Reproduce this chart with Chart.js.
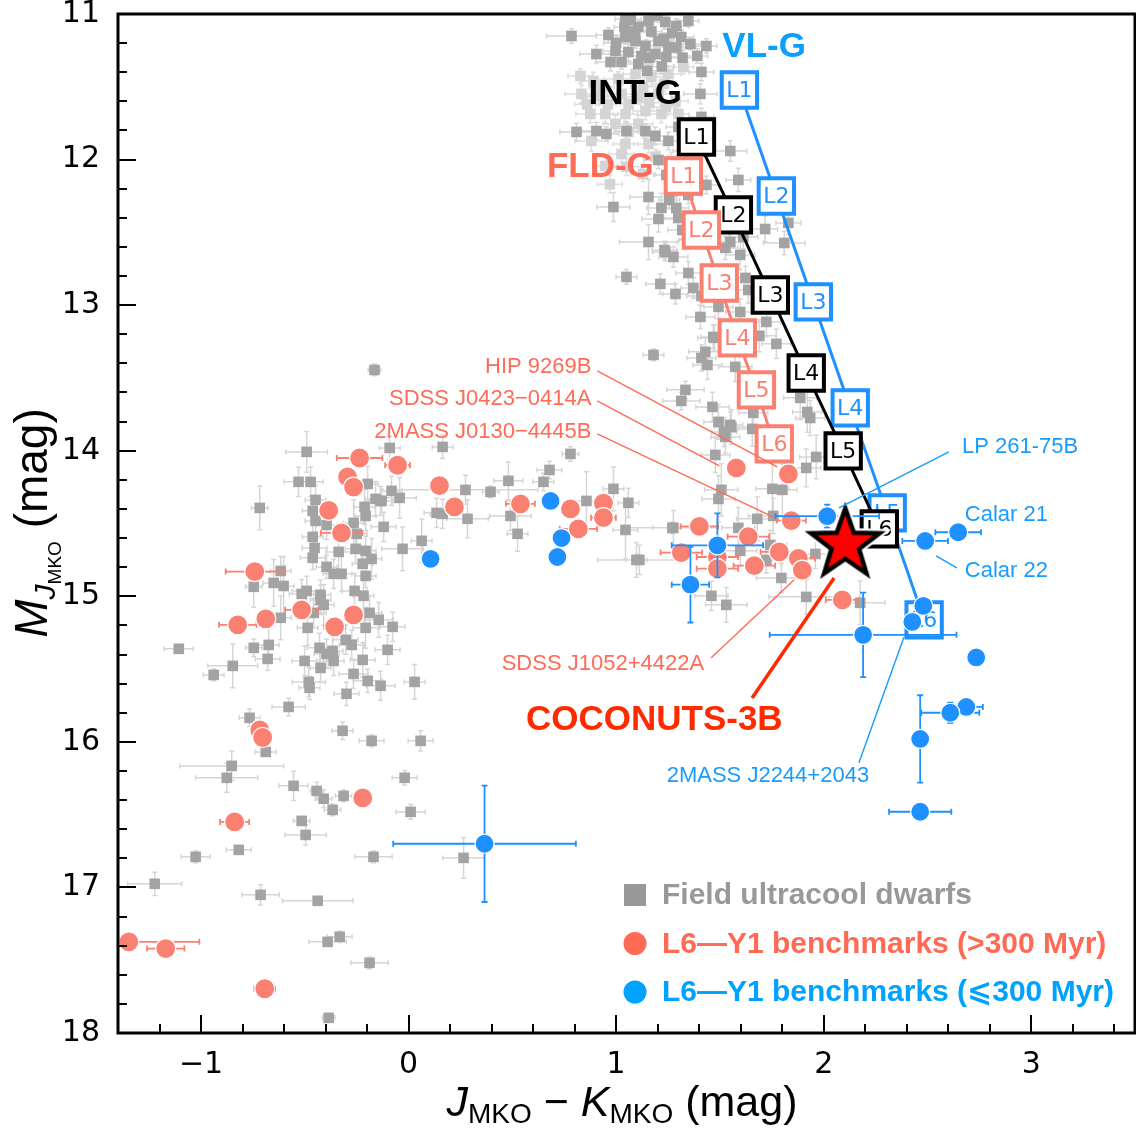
<!DOCTYPE html>
<html>
<head>
<meta charset="utf-8">
<script src="https://cdn.jsdelivr.net/npm/chart.js@4"></script>
<style>
html, body { margin: 0; padding: 0; background: #fff; overflow: hidden; }
#wrap { width: 1136px; height: 1129px; }
</style>
</head>
<body>
<div id="wrap"><canvas id="cmd"></canvas></div>
<script>
// tick values
const xTicks = [-1, 0, 1, 2, 3]
const yTicks = [11, 12, 13, 14, 15, 16, 17, 18]

// spectral sequences (J-K, M_J)
const spTypes = ['L1', 'L2', 'L3', 'L4', 'L5', 'L6']
const fldX = [1.324, 1.411, 1.497, 1.584, 1.676, 1.762]
const fldY = [12.113, 12.484, 12.848, 13.225, 13.582, 13.953]
const intX = [1.387, 1.565, 1.743, 1.916, 2.094, 2.268]
const intY = [11.845, 12.380, 12.930, 13.466, 14.001, 14.537]
const vlX = [1.594, 1.772, 1.950, 2.128, 2.306, 2.484]
const vlY = [11.522, 12.250, 12.978, 13.706, 14.427, 15.162]

// COCONUTS-3B
const cocoX = [2.104]
const cocoY = [14.63]

// benchmarks [x, y, xerr, yerr]
const oldBench = [
  [-0.236, 14.05, 0.11, 0.03], [-0.053, 14.10, 0.06, 0.02], [-0.294, 14.18, 0.03, 0.02],
  [-0.265, 14.25, 0.02, 0.03], [-0.385, 14.41, 0.02, 0.02], [-0.323, 14.565, 0.10, 0.03],
  [0.149, 14.24, 0.03, 0.02], [0.221, 14.386, 0.03, 0.02], [-0.741, 14.83, 0.14, 0.04],
  [-0.823, 15.196, 0.09, 0.02], [-0.688, 15.155, 0.04, 0.02], [-0.515, 15.093, 0.08, 0.02],
  [-0.265, 15.128, 0.03, 0.02], [-0.356, 15.21, 0.05, 0.02], [-0.717, 15.918, 0.03, 0.02],
  [-0.703, 15.97, 0.04, 0.02], [-0.221, 16.385, 0.03, 0.02], [-0.838, 16.55, 0.07, 0.02],
  [-1.348, 17.374, 0.34, 0.02], [-1.170, 17.42, 0.09, 0.02], [-0.693, 17.696, 0.05, 0.02],
  [0.539, 14.365, 0.07, 0.03], [0.780, 14.40, 0.03, 0.02], [0.818, 14.537, 0.09, 0.03],
  [0.939, 14.36, 0.04, 0.02], [0.939, 14.46, 0.06, 0.02], [1.579, 14.118, 0.04, 0.02],
  [1.830, 14.16, 0.03, 0.02], [1.844, 14.48, 0.07, 0.03], [1.401, 14.52, 0.09, 0.03],
  [1.314, 14.70, 0.10, 0.03], [1.488, 14.73, 0.10, 0.03], [1.488, 14.81, 0.10, 0.03],
  [1.637, 14.59, 0.10, 0.03], [1.666, 14.79, 0.10, 0.02], [1.786, 14.695, 0.09, 0.03],
  [1.878, 14.74, 0.08, 0.03], [1.897, 14.82, 0.04, 0.02], [2.090, 15.025, 0.08, 0.02]
]
const youngBench = [
  [0.106, 14.743, 0, 0], [0.684, 14.345, 0, 0], [0.737, 14.60, 0, 0], [0.717, 14.73, 0, 0],
  [0.366, 16.70, 0.44, 0.40], [1.488, 14.65, 0.22, 0.22], [1.358, 14.92, 0.09, 0.26],
  [2.017, 14.45, 0.25, 0.08], [2.489, 14.62, 0.11, 0.03], [2.648, 14.56, 0.11, 0.03],
  [2.190, 15.265, 0.45, 0.29], [2.480, 15.066, 0.02, 0.03], [2.427, 15.176, 0, 0],
  [2.735, 15.42, 0.02, 0.05], [2.687, 15.76, 0.08, 0.04], [2.610, 15.80, 0.14, 0.07],
  [2.465, 15.98, 0.01, 0.30], [2.465, 16.48, 0.15, 0.03]
]

// field ultracool dwarfs [x, y, xerr, yerr]
const fieldLight = [
  [0.828, 11.426, 0.06, 0.05], [0.891, 11.460, 0.06, 0.06], [1.011, 11.446, 0.07, 0.05], [1.093, 11.412, 0.06, 0.05],
  [1.170, 11.433, 0.06, 0.06], [1.252, 11.412, 0.06, 0.05], [1.324, 11.364, 0.05, 0.05], [0.833, 11.549, 0.08, 0.06],
  [0.915, 11.563, 0.06, 0.06], [1.026, 11.549, 0.07, 0.06], [1.107, 11.570, 0.06, 0.05], [1.204, 11.549, 0.06, 0.06],
  [1.286, 11.598, 0.06, 0.05], [0.876, 11.687, 0.07, 0.06], [0.948, 11.687, 0.06, 0.06], [1.045, 11.687, 0.06, 0.05],
  [1.141, 11.666, 0.06, 0.06], [1.218, 11.687, 0.07, 0.06], [1.300, 11.687, 0.05, 0.05], [0.997, 11.755, 0.06, 0.06],
  [1.107, 11.755, 0.07, 0.06], [1.045, 11.893, 0.06, 0.06], [0.881, 11.872, 0.08, 0.07], [1.156, 11.893, 0.07, 0.06],
  [1.266, 12.010, 0.07, 0.06], [0.948, 12.044, 0.06, 0.06], [1.026, 11.962, 0.06, 0.06], [1.130, 12.100, 0.06, 0.05],
  [1.050, 12.050, 0.07, 0.06], [0.970, 12.170, 0.06, 0.06], [1.190, 11.980, 0.06, 0.05], [0.860, 11.620, 0.06, 0.05],
  [0.960, 11.620, 0.06, 0.05], [1.060, 11.620, 0.06, 0.05], [1.160, 11.610, 0.06, 0.05], [1.240, 11.640, 0.06, 0.05],
  [0.930, 11.500, 0.06, 0.05], [1.130, 11.500, 0.06, 0.05], [1.230, 11.480, 0.06, 0.05], [1.060, 11.810, 0.06, 0.05]
]
const fieldDark = [
  [0.785, 11.151, 0.12, 0.05], [0.963, 11.144, 0.06, 0.05], [1.045, 11.034, 0.05, 0.04], [1.107, 11.089, 0.06, 0.05],
  [1.156, 11.048, 0.05, 0.04], [1.237, 11.055, 0.07, 0.05], [1.348, 11.048, 0.05, 0.04], [1.290, 11.082, 0.06, 0.05],
  [1.045, 11.158, 0.07, 0.05], [1.093, 11.185, 0.06, 0.05], [1.141, 11.220, 0.05, 0.04], [1.204, 11.185, 0.06, 0.05],
  [1.252, 11.227, 0.07, 0.06], [1.314, 11.158, 0.06, 0.05], [1.358, 11.206, 0.05, 0.04], [1.059, 11.261, 0.08, 0.06],
  [1.122, 11.288, 0.06, 0.05], [1.189, 11.275, 0.07, 0.05], [1.242, 11.295, 0.06, 0.06], [0.905, 11.275, 0.08, 0.06],
  [0.997, 11.254, 0.06, 0.05], [0.973, 11.330, 0.07, 0.06], [1.026, 11.330, 0.06, 0.05], [1.107, 11.343, 0.07, 0.05],
  [1.391, 11.288, 0.05, 0.05], [1.411, 11.398, 0.06, 0.06], [1.435, 11.220, 0.05, 0.05], [1.406, 11.549, 0.08, 0.07],
  [1.411, 11.707, 0.06, 0.06], [1.550, 11.941, 0.08, 0.07], [0.809, 11.810, 0.08, 0.06], [0.905, 11.804, 0.07, 0.06],
  [0.953, 11.824, 0.06, 0.05], [1.050, 11.804, 0.06, 0.06], [1.141, 11.804, 0.07, 0.05], [1.189, 11.838, 0.06, 0.06],
  [1.252, 11.872, 0.07, 0.06], [1.300, 11.776, 0.06, 0.05], [1.334, 11.941, 0.06, 0.05], [1.170, 11.120, 0.05, 0.04],
  [1.270, 11.130, 0.05, 0.05], [1.000, 11.200, 0.06, 0.05], [1.320, 11.300, 0.06, 0.05], [1.150, 11.390, 0.06, 0.05],
  [1.220, 11.360, 0.06, 0.05], [1.070, 11.040, 0.05, 0.04], [1.200, 11.010, 0.05, 0.03], [1.090, 11.120, 0.05, 0.04],
  [1.230, 11.170, 0.05, 0.04], [1.160, 11.300, 0.05, 0.04], [1.290, 11.230, 0.05, 0.04], [1.040, 11.090, 0.05, 0.04],
  [1.204, 12.003, 0.07, 0.06], [1.242, 12.106, 0.06, 0.05], [1.348, 12.243, 0.06, 0.06], [1.319, 12.484, 0.07, 0.06],
  [1.363, 12.552, 0.06, 0.05], [1.589, 12.140, 0.06, 0.08], [1.435, 12.174, 0.06, 0.06], [0.987, 12.326, 0.08, 0.10],
  [1.156, 12.257, 0.09, 0.12], [1.218, 12.332, 0.07, 0.10], [1.204, 12.408, 0.08, 0.09], [1.290, 12.332, 0.06, 0.08],
  [1.300, 12.401, 0.07, 0.08], [1.156, 12.566, 0.14, 0.12], [1.233, 12.621, 0.06, 0.06], [1.598, 12.655, 0.07, 0.10],
  [1.526, 12.607, 0.06, 0.08], [1.550, 12.566, 0.06, 0.07], [1.613, 12.532, 0.07, 0.08], [1.623, 12.813, 0.06, 0.08],
  [1.637, 12.896, 0.07, 0.09], [1.468, 13.218, 0.06, 0.08], [1.647, 13.218, 0.06, 0.07], [1.718, 12.477, 0.06, 0.09],
  [1.810, 12.573, 0.10, 0.08], [1.830, 12.435, 0.06, 0.08], [1.256, 12.278, 0.05, 0.06],
  [1.050, 12.806, 0.05, 0.05], [1.213, 12.854, 0.07, 0.07], [1.276, 12.669, 0.07, 0.07], [1.237, 12.635, 0.06, 0.06],
  [1.348, 12.779, 0.06, 0.08], [1.286, 12.923, 0.06, 0.07], [1.372, 12.882, 0.06, 0.07], [1.411, 12.937, 0.07, 0.07],
  [1.406, 13.081, 0.07, 0.08], [1.493, 13.012, 0.07, 0.08], [1.598, 13.047, 0.07, 0.09], [1.724, 13.115, 0.07, 0.10],
  [1.772, 13.266, 0.07, 0.10], [1.473, 13.225, 0.08, 0.09], [1.690, 13.211, 0.08, 0.11], [1.180, 13.342, 0.05, 0.04],
  [1.430, 13.321, 0.08, 0.10], [1.411, 13.363, 0.07, 0.09], [1.440, 13.411, 0.07, 0.10], [1.574, 13.424, 0.08, 0.10],
  [1.334, 13.582, 0.09, 0.06], [1.314, 13.658, 0.09, 0.06], [1.464, 13.699, 0.08, 0.10], [1.493, 13.802, 0.07, 0.12],
  [1.555, 13.837, 0.08, 0.12], [1.526, 13.905, 0.07, 0.11], [1.656, 13.850, 0.07, 0.12], [1.661, 13.740, 0.07, 0.11],
  [1.887, 13.637, 0.08, 0.15], [1.921, 13.734, 0.07, 0.14], [1.935, 13.775, 0.07, 0.12], [1.964, 14.043, 0.08, 0.15],
  [1.916, 14.118, 0.07, 0.13], [1.478, 14.029, 0.07, 0.12], [1.507, 14.269, 0.08, 0.18], [1.493, 14.331, 0.08, 0.16],
  [1.753, 14.262, 0.08, 0.20], [1.801, 14.269, 0.07, 0.18], [1.680, 14.468, 0.10, 0.15], [1.276, 14.530, 0.10, 0.12],
  [1.589, 14.530, 0.08, 0.14], [1.521, 13.871, 0.06, 0.10], [1.550, 13.823, 0.06, 0.09],
  [1.916, 15.004, 0.18, 0.12], [1.796, 14.874, 0.12, 0.10], [1.531, 15.059, 0.10, 0.12], [1.459, 14.997, 0.08, 0.10],
  [1.757, 14.448, 0.12, 0.12], [1.960, 14.709, 0.10, 0.10], [2.176, 15.045, 0.12, 0.15], [1.743, 14.647, 0.08, 0.10],
  [1.724, 14.750, 0.07, 0.09], [1.598, 14.688, 0.08, 0.10], [1.112, 14.750, 0.20, 0.10],
  [0.780, 14.022, 0.04, 0.05], [0.679, 14.132, 0.06, 0.06], [0.650, 14.214, 0.05, 0.06], [0.481, 14.207, 0.07, 0.13],
  [0.395, 14.283, 0.04, 0.04], [0.274, 14.269, 0.35, 0.10], [-0.130, 14.345, 0.06, 0.08], [0.284, 14.468, 0.10, 0.13],
  [0.491, 14.448, 0.10, 0.10], [0.525, 14.571, 0.05, 0.12], [0.857, 14.345, 0.08, 0.20], [0.987, 14.262, 0.05, 0.15],
  [1.059, 14.358, 0.05, 0.10], [1.045, 14.544, 0.06, 0.20], [1.098, 14.750, 0.05, 0.12], [1.271, 14.530, 0.22, 0.04],
  [-0.491, 14.008, 0.10, 0.14], [-0.091, 13.981, 0.05, 0.08], [0.164, 13.974, 0.05, 0.08], [-0.530, 14.214, 0.07, 0.10],
  [-0.472, 14.214, 0.06, 0.10], [-0.197, 14.228, 0.05, 0.12], [-0.717, 14.393, 0.04, 0.15], [-0.448, 14.338, 0.05, 0.10],
  [-0.462, 14.413, 0.05, 0.08], [-0.448, 14.482, 0.05, 0.08], [-0.395, 14.510, 0.05, 0.10], [-0.265, 14.496, 0.05, 0.16],
  [-0.212, 14.386, 0.05, 0.12], [-0.207, 14.448, 0.05, 0.10], [-0.159, 14.331, 0.05, 0.12], [-0.135, 14.345, 0.06, 0.10],
  [-0.082, 14.276, 0.05, 0.10], [-0.043, 14.324, 0.08, 0.14], [-0.120, 14.523, 0.06, 0.10], [0.135, 14.427, 0.06, 0.10],
  [0.164, 14.434, 0.06, 0.10], [0.063, 14.619, 0.05, 0.15], [-0.029, 14.674, 0.10, 0.15], [-0.462, 14.592, 0.05, 0.10],
  [-0.453, 14.668, 0.06, 0.10], [-0.462, 14.736, 0.06, 0.08], [-0.395, 14.798, 0.05, 0.08], [-0.337, 14.695, 0.06, 0.12],
  [-0.250, 14.571, 0.05, 0.12], [-0.255, 14.674, 0.05, 0.10], [-0.207, 14.688, 0.05, 0.10], [-0.178, 14.743, 0.05, 0.14],
  [-0.221, 14.777, 0.05, 0.10], [-0.207, 14.860, 0.05, 0.08], [-0.361, 14.846, 0.05, 0.10], [-0.323, 14.846, 0.05, 0.12],
  [-0.616, 14.826, 0.05, 0.10], [-0.746, 14.935, 0.04, 0.14], [-0.650, 14.908, 0.05, 0.16], [-0.602, 14.929, 0.05, 0.20],
  [-0.515, 14.984, 0.06, 0.10], [-0.491, 14.963, 0.07, 0.10], [-0.424, 14.990, 0.05, 0.10], [-0.424, 15.025, 0.05, 0.10],
  [-0.409, 15.059, 0.05, 0.14], [-0.260, 14.963, 0.06, 0.12], [-0.217, 14.997, 0.05, 0.12], [-0.188, 15.114, 0.06, 0.12],
  [-0.144, 15.162, 0.07, 0.12], [-0.207, 15.217, 0.06, 0.14], [-0.077, 15.210, 0.06, 0.10], [-0.616, 15.148, 0.05, 0.15],
  [-0.486, 15.217, 0.05, 0.12], [-0.457, 15.114, 0.06, 0.10], [-1.107, 15.361, 0.07, 0.03], [-0.746, 15.354, 0.04, 0.06],
  [-0.674, 15.334, 0.05, 0.12], [-0.679, 15.430, 0.06, 0.08], [-0.847, 15.478, 0.12, 0.15], [-0.939, 15.540, 0.05, 0.04],
  [-0.501, 15.444, 0.06, 0.10], [-0.429, 15.354, 0.06, 0.10], [-0.395, 15.396, 0.06, 0.10], [-0.366, 15.375, 0.05, 0.10],
  [-0.361, 15.444, 0.05, 0.10], [-0.303, 15.299, 0.06, 0.10], [-0.274, 15.334, 0.06, 0.10], [-0.424, 15.492, 0.05, 0.10],
  [-0.221, 15.437, 0.06, 0.12], [-0.101, 15.368, 0.06, 0.10], [-0.265, 15.533, 0.07, 0.10], [-0.481, 15.588, 0.08, 0.10],
  [-0.477, 15.629, 0.05, 0.08], [-0.197, 15.581, 0.07, 0.08], [-0.135, 15.615, 0.07, 0.10], [0.029, 15.588, 0.05, 0.12],
  [-0.299, 15.670, 0.06, 0.08], [-0.578, 15.760, 0.08, 0.06], [-0.766, 15.835, 0.05, 0.06], [-0.318, 15.924, 0.05, 0.06],
  [-0.178, 15.993, 0.06, 0.04], [0.058, 15.993, 0.06, 0.07], [-0.164, 13.445, 0.03, 0.04],
  [-0.688, 16.069, 0.05, 0.03], [-0.852, 16.165, 0.25, 0.10], [-0.876, 16.247, 0.15, 0.10], [-0.554, 16.302, 0.07, 0.10],
  [-0.443, 16.337, 0.03, 0.06], [-0.409, 16.391, 0.04, 0.06], [-0.313, 16.371, 0.04, 0.04], [-0.366, 16.467, 0.04, 0.04],
  [-0.515, 16.543, 0.04, 0.03], [-0.496, 16.639, 0.10, 0.07], [-0.818, 16.742, 0.06, 0.03], [-1.026, 16.790, 0.07, 0.04],
  [-1.223, 16.975, 0.13, 0.08], [-0.713, 17.051, 0.09, 0.07], [-0.438, 17.092, 0.17, 0.03], [-0.390, 17.374, 0.09, 0.03],
  [-0.332, 17.339, 0.06, 0.04], [-0.188, 17.518, 0.09, 0.04], [-0.385, 17.896, 0.03, 0.03], [-0.019, 16.247, 0.06, 0.05],
  [0.010, 16.481, 0.07, 0.05], [-0.169, 16.790, 0.09, 0.04], [0.265, 16.797, 0.10, 0.14]
]

const SANS = '"Liberation Sans", Arial, "DejaVu Sans", sans-serif'
const salmon = '#FA8072'
const salmonText = '#FF6B57'
const blue = '#1E90FF'
const blueText = '#169CFF'

const toPts = (arr) => arr.map(p => ({ x: p[0], y: p[1], ex: p[2], ey: p[3] }))
const zipPts = (xs, ys) => xs.map((x, i) => ({ x: x, y: ys[i] }))

// labels and leader lines, in data units
const notes = [
  { text: 'VL-G', x: 1.713, y: 11.227, align: 'center', color: '#0AA0FF', font: 'bold 35px ' + SANS },
  { text: 'INT-G', x: 1.092, y: 11.549, align: 'center', color: '#000', font: 'bold 35px ' + SANS },
  { text: 'FLD-G', x: 0.924, y: 12.051, align: 'center', color: '#FF6B57', font: 'bold 35px ' + SANS },
  { text: 'HIP 9269B', x: 0.881, y: 13.424, align: 'right', color: salmonText, line: [0.909, 13.452, 1.776, 14.111] },
  { text: 'SDSS J0423\u22120414A', x: 0.881, y: 13.644, align: 'right', color: salmonText, line: [0.909, 13.658, 1.497, 14.104] },
  { text: '2MASS J0130\u22124445B', x: 0.881, y: 13.871, align: 'right', color: salmonText, line: [0.909, 13.885, 1.766, 14.462] },
  { text: 'SDSS J1052+4422A', x: 1.424, y: 15.464, align: 'right', color: salmonText, line: [1.458, 15.423, 1.858, 14.887] },
  { text: 'COCONUTS-3B', x: 1.184, y: 15.849, align: 'center', color: '#FF2A00', font: 'bold 35px ' + SANS, line: [1.655, 15.698, 2.050, 14.874], lineWidth: 3.5 },
  { text: 'LP 261-75B', x: 2.666, y: 13.974, align: 'left', color: blueText, line: [2.603, 14.008, 2.074, 14.393] },
  { text: 'Calar 21', x: 2.680, y: 14.441, align: 'left', color: blueText },
  { text: 'Calar 22', x: 2.680, y: 14.826, align: 'left', color: blueText, line: [2.642, 14.805, 2.541, 14.723] },
  { text: '2MASS J2244+2043', x: 2.219, y: 16.234, align: 'right', color: blueText, line: [2.170, 16.144, 2.387, 15.279] }
]

// red star marker
const starImg = document.createElement('canvas')
starImg.width = 92
starImg.height = 92
;(() => {
  const c = starImg.getContext('2d')
  c.beginPath()
  for (let i = 0; i < 10; i++) {
    const r = i % 2 === 0 ? 36 : 14.5
    const a = -Math.PI / 2 + i * Math.PI / 5
    c.lineTo(46 + r * Math.cos(a), 48 + r * Math.sin(a))
  }
  c.closePath()
  c.lineJoin = 'miter'
  c.strokeStyle = '#fff'
  c.lineWidth = 9
  c.stroke()
  c.fillStyle = '#FF0000'
  c.fill()
  c.strokeStyle = '#000'
  c.lineWidth = 4.5
  c.stroke()
})()

const errorBars = {
  id: 'errorBars',
  beforeDatasetDraw(chart, args) {
    const ds = chart.data.datasets[args.index]
    if (!ds.errColor) return
    const xs = chart.scales.x
    const ys = chart.scales.y
    const c = chart.ctx
    const area = chart.chartArea
    const cap = ds.capSize || 3
    c.save()
    c.beginPath()
    c.rect(area.left, area.top, area.right - area.left, area.bottom - area.top)
    c.clip()
    c.strokeStyle = ds.errColor
    c.lineWidth = ds.errWidth || 1.5
    c.beginPath()
    ds.data.forEach(p => {
      const px = xs.getPixelForValue(p.x)
      const py = ys.getPixelForValue(p.y)
      if (p.ex) {
        const a = xs.getPixelForValue(p.x - p.ex)
        const b = xs.getPixelForValue(p.x + p.ex)
        c.moveTo(a, py); c.lineTo(b, py)
        c.moveTo(a, py - cap); c.lineTo(a, py + cap)
        c.moveTo(b, py - cap); c.lineTo(b, py + cap)
      }
      if (p.ey) {
        const a = ys.getPixelForValue(p.y - p.ey)
        const b = ys.getPixelForValue(p.y + p.ey)
        c.moveTo(px, a); c.lineTo(px, b)
        c.moveTo(px - cap, a); c.lineTo(px + cap, a)
        c.moveTo(px - cap, b); c.lineTo(px + cap, b)
      }
    })
    c.stroke()
    c.restore()
  }
}

const boxLabels = {
  id: 'boxLabels',
  afterDatasetDraw(chart, args) {
    const ds = chart.data.datasets[args.index]
    if (!ds.boxLabels) return
    const c = chart.ctx
    c.save()
    c.font = '22px "DejaVu Sans", sans-serif'
    c.fillStyle = ds.borderColor
    c.textAlign = 'center'
    c.textBaseline = 'middle'
    args.meta.data.forEach((el, i) => {
      c.fillText(ds.boxLabels[i], el.x, el.y + 1)
    })
    c.restore()
  }
}

const drawRuns = (c, runs, cx, baseline) => {
  let total = 0
  runs.forEach(r => { c.font = r.font; total += c.measureText(r.t).width })
  let x = cx - total / 2
  runs.forEach(r => {
    c.font = r.font
    c.fillText(r.t, x, baseline + (r.dy || 0))
    x += c.measureText(r.t).width
  })
}

const decorations = {
  id: 'decorations',
  afterDatasetsDraw(chart) {
    const c = chart.ctx
    const xs = chart.scales.x
    const ys = chart.scales.y
    c.save()
    notes.forEach(n => {
      if (n.line) {
        c.strokeStyle = n.color
        c.lineWidth = n.lineWidth || 1.4
        c.beginPath()
        c.moveTo(xs.getPixelForValue(n.line[0]), ys.getPixelForValue(n.line[1]))
        c.lineTo(xs.getPixelForValue(n.line[2]), ys.getPixelForValue(n.line[3]))
        c.stroke()
      }
      c.font = n.font || '22px ' + SANS
      c.fillStyle = n.color
      c.textAlign = n.align
      c.textBaseline = 'middle'
      c.fillText(n.text, xs.getPixelForValue(n.x), ys.getPixelForValue(n.y))
    })
    c.restore()
  },
  afterDraw(chart) {
    const c = chart.ctx
    const a = chart.chartArea
    const xs = chart.scales.x
    const ys = chart.scales.y
    c.save()
    // inward ticks
    c.strokeStyle = '#000'
    c.lineWidth = 2
    c.beginPath()
    for (let i = -7; i <= 17; i++) {
      const px = Math.round(xs.getPixelForValue(i * 0.2))
      const len = i % 5 === 0 ? 18 : 9
      c.moveTo(px, a.bottom); c.lineTo(px, a.bottom - len)
    }
    for (let i = 55; i <= 90; i++) {
      const py = Math.round(ys.getPixelForValue(i * 0.2))
      const len = i % 5 === 0 ? 18 : 9
      c.moveTo(a.left, py); c.lineTo(a.left + len, py)
    }
    c.stroke()
    // frame
    c.lineWidth = 3
    c.strokeRect(a.left, a.top, a.right - a.left, a.bottom - a.top)

    // legend
    const lx = a.right - 500
    const rows = [
      { kind: 'rect', color: '#999999', text: 'Field ultracool dwarfs', tcolor: '#999999' },
      { kind: 'circ', color: '#FF6A55', text: 'L6\u2014Y1 benchmarks (>300 Myr)', tcolor: '#FF6A55' },
      { kind: 'circ', color: '#00A2FF', text: 'L6\u2014Y1 benchmarks (\u2A7D300 Myr)', tcolor: '#00A2FF' }
    ]
    rows.forEach((r, i) => {
      const y = a.bottom - 138 + i * 48.5
      c.fillStyle = r.color
      if (r.kind === 'rect') {
        c.fillRect(lx - 11, y - 11, 22, 22)
      } else {
        c.beginPath(); c.arc(lx, y, 11.5, 0, Math.PI * 2); c.fill()
      }
      c.font = 'bold 30px ' + SANS
      c.fillStyle = r.tcolor
      c.textAlign = 'left'
      c.textBaseline = 'middle'
      c.fillText(r.text, lx + 27, y + 1)
    })

    // axis titles
    c.fillStyle = '#000'
    c.textAlign = 'left'
    c.textBaseline = 'alphabetic'
    drawRuns(c, [
      { t: 'J', font: 'italic 43px ' + SANS },
      { t: 'MKO', font: '28px ' + SANS, dy: 7 },
      { t: ' \u2212 ', font: '43px ' + SANS },
      { t: 'K', font: 'italic 43px ' + SANS },
      { t: 'MKO', font: '28px ' + SANS, dy: 7 },
      { t: ' (mag)', font: '43px ' + SANS }
    ], 622, 1116)
    c.translate(47, 523)
    c.rotate(-Math.PI / 2)
    drawRuns(c, [
      { t: 'M', font: 'italic 46px ' + SANS },
      { t: 'J', font: 'italic 30px ' + SANS, dy: 8 },
      { t: 'MKO', font: '19px ' + SANS, dy: 14 },
      { t: ' (mag)', font: '46px ' + SANS }
    ], 0, 0)
    c.restore()
  }
}

const noOverflow = (s) => {
  s.paddingTop = 0
  s.paddingBottom = 0
  s.paddingLeft = 0
  s.paddingRight = 0
}

new Chart(document.getElementById('cmd'), {
  type: 'scatter',
  data: {
    datasets: [
      {
        label: 'COCONUTS-3B',
        data: zipPts(cocoX, cocoY),
        pointStyle: starImg,
        order: 0
      },
      {
        label: 'young',
        data: toPts(youngBench),
        backgroundColor: blue,
        borderColor: '#fff',
        borderWidth: 1.2,
        pointRadius: 9.5,
        errColor: blue,
        errWidth: 1.8,
        capSize: 3,
        order: 1
      },
      {
        label: 'old',
        data: toPts(oldBench),
        backgroundColor: salmon,
        borderColor: '#fff',
        borderWidth: 1.2,
        pointRadius: 10,
        errColor: salmon,
        errWidth: 1.8,
        capSize: 3,
        order: 2
      },
      {
        label: 'FLD-G',
        data: zipPts(fldX, fldY),
        showLine: true,
        borderColor: salmon,
        backgroundColor: '#fff',
        borderWidth: 3,
        pointStyle: 'rect',
        pointRadius: 25,
        pointBorderWidth: 4,
        boxLabels: spTypes,
        order: 3
      },
      {
        label: 'INT-G',
        data: zipPts(intX, intY),
        showLine: true,
        borderColor: '#000',
        backgroundColor: '#fff',
        borderWidth: 3,
        pointStyle: 'rect',
        pointRadius: 25,
        pointBorderWidth: 4,
        boxLabels: spTypes,
        order: 4
      },
      {
        label: 'VL-G',
        data: zipPts(vlX, vlY),
        showLine: true,
        borderColor: blue,
        backgroundColor: '#fff',
        borderWidth: 3,
        pointStyle: 'rect',
        pointRadius: 25,
        pointBorderWidth: 4,
        boxLabels: spTypes,
        order: 5
      },
      {
        label: 'field',
        data: toPts(fieldDark),
        backgroundColor: '#A3A3A3',
        borderWidth: 0,
        pointStyle: 'rect',
        pointRadius: 7.5,
        errColor: '#D6D6D6',
        errWidth: 1.5,
        capSize: 2.5,
        order: 6
      },
      {
        label: 'field light',
        data: toPts(fieldLight),
        backgroundColor: '#D4D4D4',
        borderWidth: 0,
        pointStyle: 'rect',
        pointRadius: 7.5,
        errColor: '#DEDEDE',
        errWidth: 1.5,
        capSize: 2.5,
        order: 7
      }
    ]
  },
  options: {
    responsive: true,
    maintainAspectRatio: false,
    animation: false,
    events: [],
    layout: { autoPadding: false, padding: { top: 14, right: 1, left: 0, bottom: 0 } },
    plugins: {
      legend: { display: false },
      tooltip: { enabled: false }
    },
    scales: {
      x: {
        type: 'linear',
        min: -1.4,
        max: 3.5,
        grid: { display: false, drawTicks: false },
        border: { display: false },
        afterBuildTicks: (s) => { s.ticks = xTicks.map(v => ({ value: v })) },
        afterFit: (s) => { s.height = 96; noOverflow(s) },
        ticks: {
          padding: 14,
          color: '#000',
          font: { family: 'DejaVu Sans', size: 30 },
          autoSkip: false,
          maxRotation: 0,
          callback: (v) => String(v).replace('-', '\u2212')
        }
      },
      y: {
        type: 'linear',
        reverse: true,
        min: 11,
        max: 18,
        grid: { display: false, drawTicks: false },
        border: { display: false },
        afterBuildTicks: (s) => { s.ticks = yTicks.map(v => ({ value: v })) },
        afterFit: (s) => { s.width = 118; noOverflow(s) },
        ticks: {
          padding: 18,
          color: '#000',
          font: { family: 'DejaVu Sans', size: 30 },
          autoSkip: false
        }
      }
    }
  },
  plugins: [errorBars, boxLabels, decorations]
})
</script>
</body>
</html>
